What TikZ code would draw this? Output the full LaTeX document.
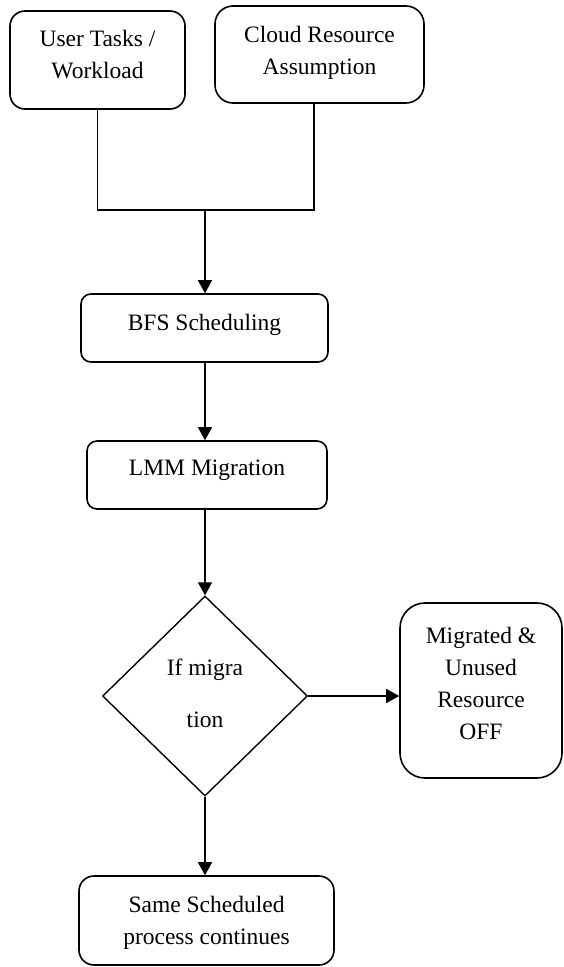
\documentclass[tikz,border=0pt]{standalone}
\usepackage{fontspec}
\setmainfont{Liberation Serif}
\usetikzlibrary{shapes.geometric, arrows.meta, positioning}
\tikzset{
  procbox/.style={rectangle, draw=black, line width=1.6pt, align=center,
    inner sep=0pt, font=\fontsize{23.5}{32}\selectfont, text depth=11pt},
  decision/.style={diamond, draw=black, line width=1.4pt, align=center,
    inner sep=0pt, minimum width=205pt, minimum height=200pt,
    font=\fontsize{23.5}{32}\selectfont},
  arrow/.style={-{Triangle[length=13pt, width=14pt]}, line width=1.6pt, color=black},
  line/.style={line width=1.6pt, color=black}
}

\begin{document}
\begin{tikzpicture}[x=1pt, y=-1pt]
  \useasboundingbox (0,0) rectangle (563,967);

  \node[procbox, minimum width=175pt, minimum height=98pt, rounded corners=15pt] (user) at (97.5,60) {User Tasks /\\Workload};
  \node[procbox, minimum width=209pt, minimum height=97pt, rounded corners=18pt, text depth=8pt] (cloud) at (319.5,54.5) {Cloud Resource\\Assumption};
  \node[procbox, minimum width=247pt, minimum height=68pt, rounded corners=10pt] (bfs) at (204.5,328) {BFS Scheduling};
  \node[procbox, minimum width=240pt, minimum height=68pt, rounded corners=10pt, text depth=14pt] (lmm) at (207,475) {LMM Migration};
  \node[decision, text depth=6pt] (decide) at (205,696) {If migra\\[20pt]tion};
  \node[procbox, minimum width=162pt, minimum height=175pt, rounded corners=25pt, text depth=15pt] (off) at (481,690.5) {Migrated \&\\Unused\\Resource\\OFF};
  \node[procbox, minimum width=255pt, minimum height=89pt, rounded corners=15pt, text depth=1pt] (same) at (206.5,920.5) {Same Scheduled\\process continues};

  \coordinate (joinL) at (97.5,210);
  \coordinate (joinR) at (314,210);
  \coordinate (join) at (205,210);

  \draw[line] (user.south) -- (joinL) -- (joinR) -- (joinR |- cloud.south);
  \draw[arrow] (join) -- (join |- bfs.north);
  \draw[arrow] (bfs.south -| join) -- (join |- lmm.north);
  \draw[arrow] (decide.north |- lmm.south) -- (decide.north);
  \draw[arrow] (decide.east) -- (decide.east -| off.west);
  \draw[arrow] (decide.south) -- (decide.south |- same.north);
\end{tikzpicture}
\end{document}
